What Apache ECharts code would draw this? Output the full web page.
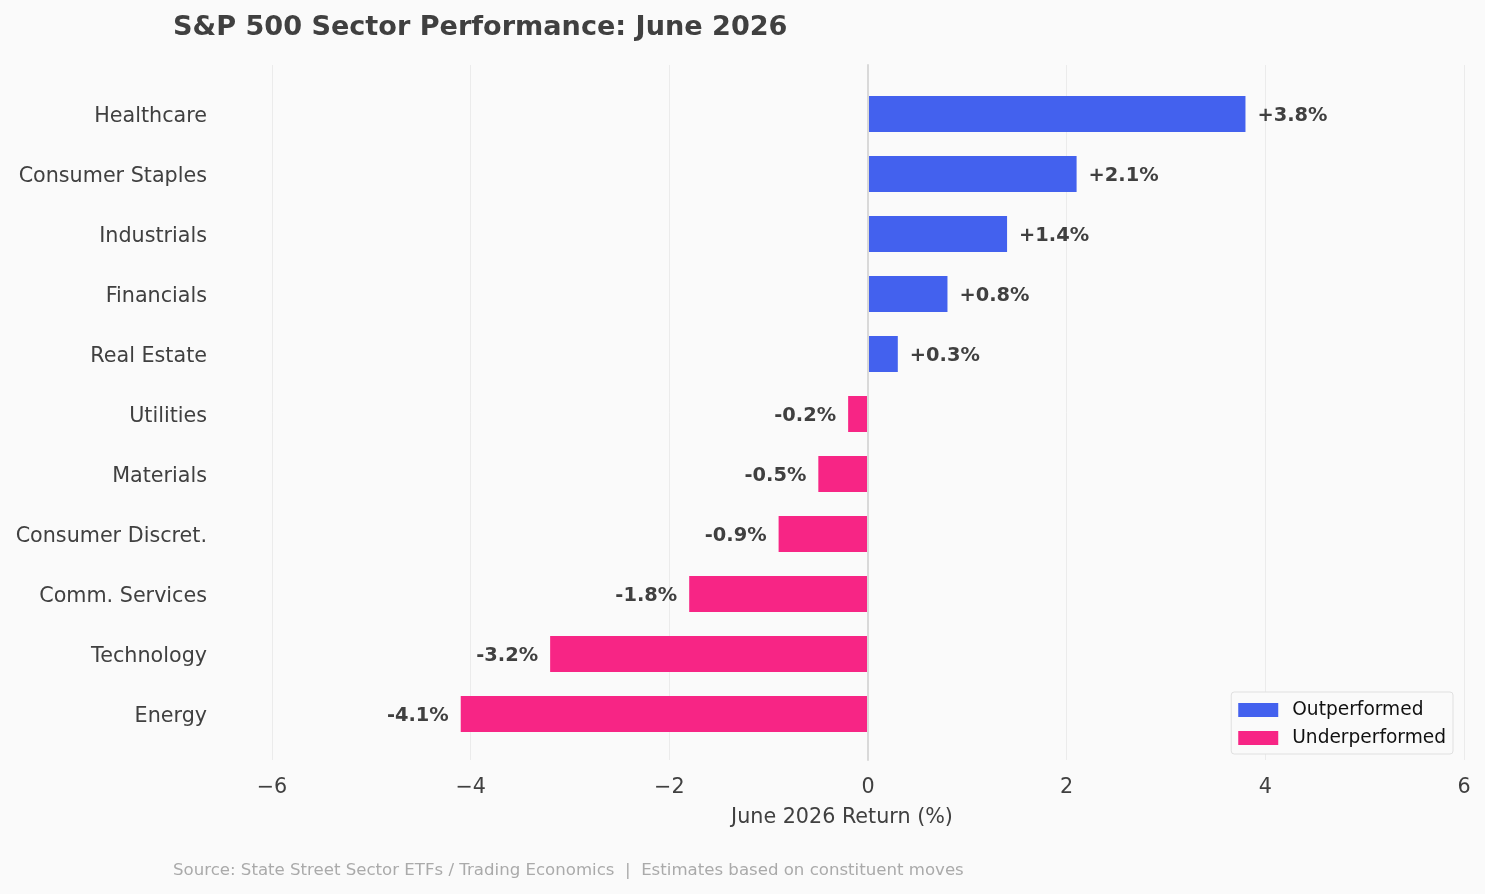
<!DOCTYPE html>
<html>
<head>
<meta charset="utf-8">
<script src="https://cdn.jsdelivr.net/npm/echarts@6/dist/echarts.min.js"></script>
<style>
  html, body { margin: 0; padding: 0; background: #fafafa; }
  #chart { width: 1485px; height: 894px; }
</style>
</head>
<body>
<div id="chart"></div>
<script>
// sectors, top to bottom
var sectors = ['Healthcare', 'Consumer Staples', 'Industrials', 'Financials', 'Real Estate',
  'Utilities', 'Materials', 'Consumer Discret.', 'Comm. Services', 'Technology', 'Energy'];
var returns = [3.8, 2.1, 1.4, 0.8, 0.3, -0.2, -0.5, -0.9, -1.8, -3.2, -4.1];
var xTicks = [-6, -4, -2, 0, 2, 4, 6];

var FONT = 'DejaVu Sans';
var TEXT = '#404040';

var outData = returns.map(function (v) { return v >= 0 ? v : null; });
var underData = returns.map(function (v) { return v < 0 ? v : null; });

function pct(p) {
  var v = p.value;
  return '{a|' + (v > 0 ? '+' : '') + v.toFixed(1) + '%}';
}
var valueRich = { a: { fontFamily: FONT, fontSize: 19.4, fontWeight: 'bold', color: TEXT, padding: [4, 0, 0, 0] } };

var chart = echarts.init(document.getElementById('chart'));
var option = {
  backgroundColor: '#fafafa',
  animation: false,
  title: {
    text: 'S&P 500 Sector Performance: June 2026',
    left: 173, top: 14, padding: 0,
    textStyle: { fontFamily: FONT, fontSize: 27.1, fontWeight: 'bold', color: TEXT }
  },
  legend: {
    orient: 'vertical',
    right: 32, top: 692,
    padding: [8, 7, 6, 7],
    itemWidth: 40, itemHeight: 14, itemGap: 8,
    icon: 'rect',
    backgroundColor: '#fafafa',
    borderColor: '#e0e0e0', borderWidth: 1, borderRadius: 3,
    textStyle: { fontFamily: FONT, fontSize: 18.6, color: '#111', lineHeight: 20, padding: [0, 0, 0, 9] },
    data: ['Outperformed', 'Underperformed']
  },
  grid: [
    { left: 272, right: 21, top: 84, bottom: 150 },
    { left: 272, right: 21, top: 65, bottom: 134 }
  ],
  xAxis: [
    {
      gridIndex: 0, type: 'value', min: -6, max: 6, interval: 2,
      axisLine: { show: false }, axisTick: { show: false },
      axisLabel: { show: false }, splitLine: { show: false }
    },
    {
      gridIndex: 1, type: 'value', min: xTicks[0], max: xTicks[xTicks.length - 1], interval: 2,
      axisLine: { show: false }, axisTick: { show: false },
      axisLabel: {
        margin: 17, fontFamily: FONT, fontSize: 20.7, color: TEXT,
        formatter: function (v) { return v < 0 ? '\u2212' + Math.abs(v) : String(v); }
      },
      splitLine: { show: true, lineStyle: { color: '#ebebeb', width: 1 } }
    }
  ],
  yAxis: [
    {
      gridIndex: 0, type: 'category', data: sectors, inverse: true,
      axisLine: { show: false }, axisTick: { show: false },
      axisLabel: {
        margin: 65, formatter: '{a|{value}}',
        rich: { a: { fontFamily: FONT, fontSize: 20.7, color: TEXT, padding: [6, 0, 0, 0] } }
      }
    },
    {
      // zero reference line, drawn above the bars
      gridIndex: 1, type: 'value', min: 0, max: 1, z: 5,
      axisLine: { show: true, onZero: true, lineStyle: { color: '#d9d9d9', width: 2 } },
      axisTick: { show: false }, axisLabel: { show: false }, splitLine: { show: false }
    }
  ],
  graphic: [
    {
      type: 'text', x: 842, y: 818,
      style: {
        text: 'June 2026 Return (%)', fontFamily: FONT, fontSize: 20.7, fill: TEXT,
        textAlign: 'center', textVerticalAlign: 'middle'
      }
    },
    {
      type: 'text', x: 173, y: 871,
      style: {
        text: 'Source: State Street Sector ETFs / Trading Economics  |  Estimates based on constituent moves',
        fontFamily: FONT, fontSize: 16.6, fill: '#aaaaaa', textVerticalAlign: 'middle'
      }
    }
  ],
  series: [
    {
      name: 'Outperformed', type: 'bar', xAxisIndex: 0, yAxisIndex: 0,
      stack: 'r', barWidth: '60%', data: outData,
      itemStyle: { color: '#4361ee' },
      label: { show: true, position: 'right', distance: 12, formatter: pct, rich: valueRich }
    },
    {
      name: 'Underperformed', type: 'bar', xAxisIndex: 0, yAxisIndex: 0,
      stack: 'r', barWidth: '60%', data: underData,
      itemStyle: { color: '#f72585' },
      label: { show: true, position: 'left', distance: 12, formatter: pct, rich: valueRich }
    }
  ]
};
chart.setOption(option);
</script>
</body>
</html>
